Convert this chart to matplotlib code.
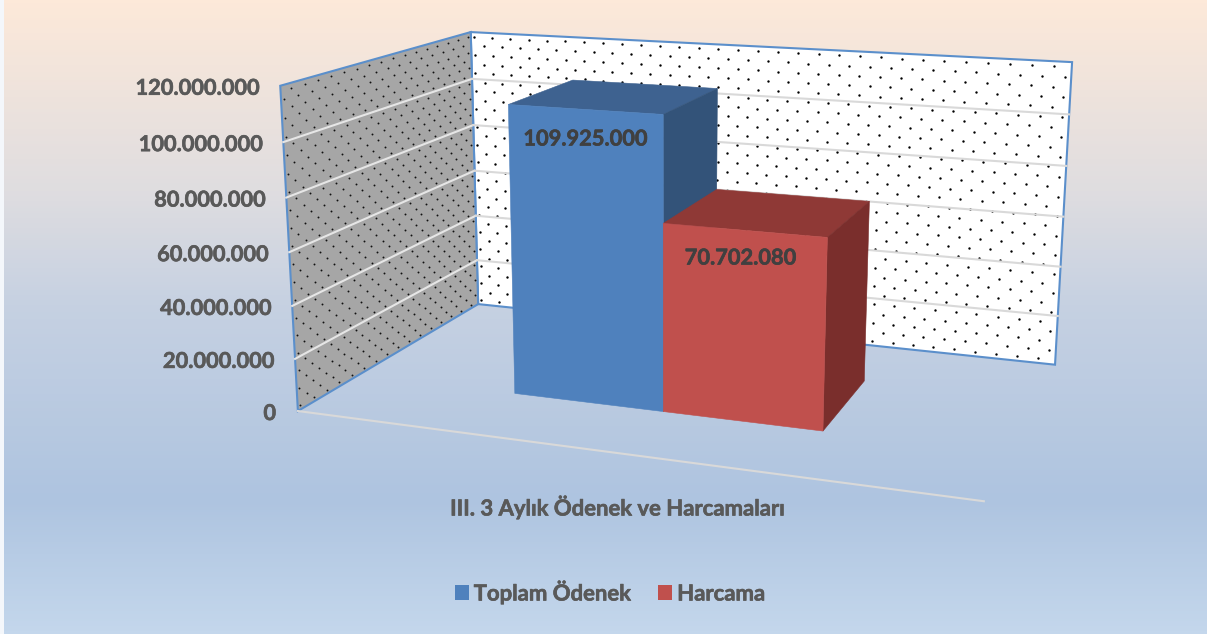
import numpy as np
import matplotlib
matplotlib.use('Agg')
import matplotlib.pyplot as plt
import matplotlib.patheffects as pe
from matplotlib.colors import LinearSegmentedColormap
from matplotlib.patches import Patch, Polygon

series_names = ['Toplam Ödenek', 'Harcama']
series_values = [109925000, 70702080]
axis_title = 'III. 3 Aylık Ödenek ve Harcamaları'
y_ticks = [0, 20000000, 40000000, 60000000, 80000000, 100000000, 120000000]
y_max = 120000000

front_colors = ['#4F81BD', '#C0504D']
top_colors = ['#3E6290', '#8F3936']
side_colors = ['#335379', '#7A2E2C']
text_color = '#595959'
border_color = '#5B8FCB'

plt.rcParams['font.family'] = ['Lato', 'DejaVu Sans']
plt.rcParams['font.weight'] = 'bold'


def fit_camera(model_pts, pixel_pts):
    # plain DLT for the fake 3d box: (x, depth, height) -> pixel
    rows = []
    for (x, d, h), (u, v) in zip(model_pts, pixel_pts):
        rows.append([x, d, h, 1, 0, 0, 0, 0, -u*x, -u*d, -u*h, -u])
        rows.append([0, 0, 0, 0, x, d, h, 1, -v*x, -v*d, -v*h, -v])
    return np.linalg.svd(np.array(rows, dtype=float))[2][-1].reshape(3, 4)


box_model = [(0, 0, 0), (0, 0, 1), (0, 1, 1), (0, 1, 0), (1, 1, 1), (1, 1, 0), (1, 0, 0)]
box_pixels = [(298, 411), (280, 86), (471, 32), (478, 304), (1072, 62), (1055, 365), (984, 501)]
camera = fit_camera(box_model, box_pixels)


def project(x, d, value):
    p = camera @ np.array([x, d, value / y_max, 1.0])
    return p[0] / p[2], p[1] / p[2]


def floor_point(u, v):
    # pixel on the floor back to (x, depth)
    floor = camera[:, [0, 1, 3]]
    q = np.linalg.solve(floor, [u, v, 1.0])
    return q[0] / q[2], q[1] / q[2]


def face(ax, corners, color, z, **kw):
    ax.add_patch(Polygon([project(*c) for c in corners], closed=True, facecolor=color,
                         edgecolor=kw.pop('edgecolor', color), linewidth=kw.pop('linewidth', 0.4),
                         zorder=z, **kw))


def heavy(lw=0.45, color=text_color):
    # lato bold is a bit thin next to the original font
    return [pe.withStroke(linewidth=lw, foreground=color)]


fig = plt.figure(figsize=(12.07, 6.34), dpi=100, facecolor='#F4F7FB')
ax = fig.add_axes([0, 0, 1, 1])
ax.set_xlim(0, 1207)
ax.set_ylim(634, 0)
ax.axis('off')

# background
bg = LinearSegmentedColormap.from_list('bg', [(0, '#FDE9D9'), (0.30, '#DFDDE0'), (0.48, '#C6D1E2'),
                                              (0.79, '#AEC4E0'), (1, '#C4D7EC')])
ax.imshow(np.linspace(0, 1, 634).reshape(-1, 1), cmap=bg, aspect='auto', extent=(4, 1207, 634, 0), zorder=0)
ax.set_xlim(0, 1207)
ax.set_ylim(634, 0)

# walls
face(ax, [(0, 1, 0), (1, 1, 0), (1, 1, y_max), (0, 1, y_max)], 'white', 1, edgecolor=border_color, linewidth=1.5)
face(ax, [(0, 0, 0), (0, 1, 0), (0, 1, y_max), (0, 0, y_max)], '#A6A6A6', 1, edgecolor=border_color, linewidth=1.5)

# dot pattern on the walls
back_dots = []
for i in range(31):
    for j in range(30):
        back_dots.append(project((j + 0.2 + 0.5 * (i % 2)) / 30, 1, (i + 0.5) / 31 * y_max))
side_dots = []
for i in range(36):
    for j in range(16):
        side_dots.append(project(0, (j + 0.2 + 0.5 * (i % 2)) / 16, (i + 0.5) / 36 * y_max))
back_dots = np.array(back_dots)
side_dots = np.array(side_dots)
ax.scatter(back_dots[:, 0], back_dots[:, 1], s=3.0, color='black', linewidths=0, zorder=2)
ax.scatter(side_dots[:, 0], side_dots[:, 1], s=1.9, color='#111111', linewidths=0, zorder=2)

# grid lines and y labels
for tick in y_ticks:
    if tick > 0 and tick < y_max:
        a, b, c = project(0, 0, tick), project(0, 1, tick), project(1, 1, tick)
        ax.plot([a[0], b[0]], [a[1], b[1]], color='#E6E6E6', lw=1.5, zorder=3)
        ax.plot([b[0], c[0]], [b[1], c[1]], color='#D9D9D9', lw=1.5, zorder=3)
    x, y = project(0, 0, tick)
    ax.text(x - 22, y + 2.5, f'{tick:,}'.replace(',', '.'), ha='right', va='center', fontsize=15.7,
            color=text_color, zorder=6, path_effects=heavy())

# floor line
a, b = project(0, 0, 0), project(1, 0, 0)
ax.plot([a[0], b[0]], [a[1], b[1]], color='#D9D9D9', lw=1.5, zorder=3)

x0, d0a = floor_point(514, 394)
x1, d0b = floor_point(664, 411)
x2, d0c = floor_point(823, 431)
d0 = (d0a + d0b + d0c) / 3
d1 = floor_point(864, 381)[1]
bar_edges = [x0, x1, x2]

for k, value in enumerate(series_values):
    xa, xb = bar_edges[k], bar_edges[k + 1]
    z = 4 + k * 0.1
    face(ax, [(xa, d1, value), (xb, d1, value), (xb, d0, value), (xa, d0, value)], top_colors[k], z)
    face(ax, [(xb, d0, 0), (xb, d1, 0), (xb, d1, value), (xb, d0, value)], side_colors[k], z)
    face(ax, [(xa, d0, 0), (xb, d0, 0), (xb, d0, value), (xa, d0, value)], front_colors[k], z + 0.01)

# data labels
ax.text(585, 139, f'{series_values[0]:,}'.replace(',', '.'), ha='center', va='center', fontsize=15.7,
        color='#404040', zorder=6, path_effects=heavy(color='#404040'))
ax.text(740, 258, f'{series_values[1]:,}'.replace(',', '.'), ha='center', va='center', fontsize=15.7,
        color='#404040', zorder=6, path_effects=heavy(color='#404040'))

ax.text(618, 507, axis_title, ha='center', va='center', fontsize=15.9, color=text_color, zorder=6,
        path_effects=heavy())

handles = [Patch(facecolor=front_colors[i], edgecolor='none', label=series_names[i]) for i in range(2)]
leg = ax.legend(handles=handles, ncol=2, loc='center', bbox_to_anchor=(610, 592), bbox_transform=ax.transData,
                frameon=False, prop={'size': 15.9, 'weight': 'bold'}, labelcolor=text_color, handlelength=0.64,
                handleheight=0.64, handletextpad=0.22, columnspacing=1.2)
for t in leg.get_texts():
    t.set_path_effects(heavy())

fig.savefig('out.png', dpi=100, facecolor=fig.get_facecolor())
